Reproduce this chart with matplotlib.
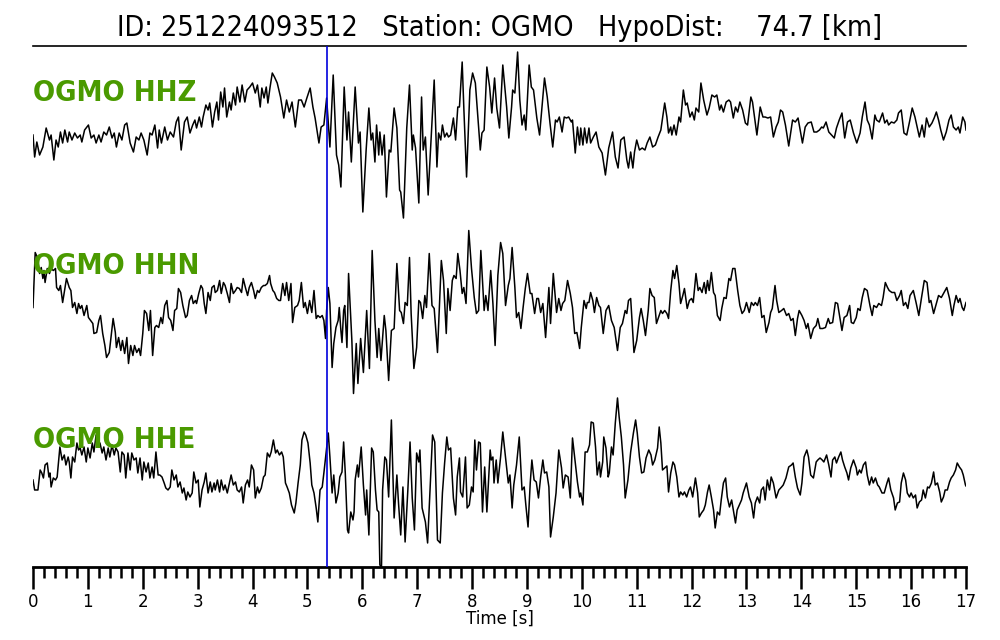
import matplotlib
matplotlib.use("Agg")
import matplotlib.pyplot as plt
from matplotlib.ticker import MultipleLocator

event_id = "251224093512"
station = "OGMO"
hypo_dist = 74.7
channels = ["HHZ", "HHN", "HHE"]
p_pick = 5.36

# amplitudes (arbitrary units), irregular time samples [s]
hhz_t = [0.00, 0.03, 0.07, 0.12, 0.18, 0.24, 0.30, 0.33, 0.38, 0.42, 0.46, 0.50, 0.54, 0.58, 0.63, 0.66, 0.71, 0.76, 0.81, 0.86,
         0.89, 0.94, 1.01, 1.06, 1.11, 1.15, 1.20, 1.24, 1.29, 1.34, 1.39, 1.44, 1.48, 1.52, 1.57, 1.62, 1.67, 1.71, 1.77, 1.83,
         1.88, 1.93, 1.97, 2.02, 2.08, 2.13, 2.17, 2.22, 2.27, 2.30, 2.34, 2.40, 2.45, 2.50, 2.56, 2.61, 2.65, 2.70, 2.76, 2.81,
         2.86, 2.91, 2.95, 2.98, 3.03, 3.07, 3.10, 3.15, 3.19, 3.22, 3.27, 3.31, 3.35, 3.38, 3.42, 3.46, 3.49, 3.53, 3.58, 3.61,
         3.65, 3.69, 3.72, 3.77, 3.81, 3.86, 3.90, 3.95, 4.00, 4.05, 4.09, 4.14, 4.17, 4.21, 4.25, 4.28, 4.32, 4.36, 4.40, 4.45,
         4.51, 4.57, 4.62, 4.67, 4.72, 4.78, 4.84, 4.89, 4.94, 4.99, 5.05, 5.10, 5.14, 5.21, 5.25, 5.30, 5.35, 5.41, 5.47, 5.53,
         5.57, 5.61, 5.67, 5.72, 5.75, 5.80, 5.87, 5.93, 5.96, 6.01, 6.07, 6.12, 6.16, 6.19, 6.23, 6.26, 6.30, 6.32, 6.36, 6.40,
         6.44, 6.49, 6.52, 6.58, 6.63, 6.68, 6.70, 6.75, 6.81, 6.86, 6.91, 6.93, 6.97, 7.03, 7.08, 7.11, 7.15, 7.20, 7.31, 7.36,
         7.39, 7.43, 7.46, 7.50, 7.54, 7.57, 7.61, 7.66, 7.70, 7.74, 7.77, 7.82, 7.85, 7.90, 7.96, 8.01, 8.06, 8.11, 8.15, 8.18,
         8.22, 8.27, 8.32, 8.36, 8.41, 8.45, 8.50, 8.56, 8.59, 8.63, 8.67, 8.72, 8.74, 8.78, 8.83, 8.87, 8.91, 8.95, 8.98, 9.04,
         9.08, 9.12, 9.18, 9.23, 9.27, 9.32, 9.37, 9.42, 9.47, 9.52, 9.55, 9.59, 9.64, 9.68, 9.72, 9.76, 9.81, 9.83, 9.88, 9.92,
         9.96, 9.98, 10.02, 10.05, 10.09, 10.13, 10.16, 10.21, 10.26, 10.31, 10.37, 10.43, 10.49, 10.56, 10.61, 10.66, 10.71, 10.77, 10.82, 10.85,
         10.89, 10.93, 10.96, 11.00, 11.05, 11.10, 11.15, 11.19, 11.24, 11.29, 11.34, 11.39, 11.44, 11.51, 11.55, 11.58, 11.62, 11.64, 11.68, 11.72,
         11.77, 11.80, 11.85, 11.89, 11.92, 11.97, 12.01, 12.05, 12.08, 12.13, 12.17, 12.22, 12.28, 12.32, 12.37, 12.42, 12.46, 12.51, 12.54, 12.58,
         12.63, 12.68, 12.71, 12.76, 12.80, 12.84, 12.88, 12.93, 12.98, 13.02, 13.08, 13.11, 13.19, 13.25, 13.30, 13.34, 13.39, 13.44, 13.49, 13.54,
         13.58, 13.62, 13.66, 13.71, 13.77, 13.84, 13.89, 13.94, 14.02, 14.07, 14.12, 14.18, 14.23, 14.28, 14.33, 14.37, 14.40, 14.45, 14.50, 14.55,
         14.60, 14.64, 14.69, 14.74, 14.79, 14.84, 14.89, 14.95, 15.01, 15.07, 15.11, 15.16, 15.20, 15.24, 15.29, 15.34, 15.37, 15.42, 15.48, 15.52,
         15.56, 15.59, 15.64, 15.69, 15.74, 15.77, 15.82, 15.87, 15.92, 15.97, 16.02, 16.07, 16.11, 16.15, 16.20, 16.24, 16.28, 16.33, 16.38, 16.42,
         16.46, 16.50, 16.54, 16.59, 16.64, 16.69, 16.73, 16.77, 16.82, 16.86, 16.89, 16.94, 16.98, 17.00]
hhz_amp = [-5, -27, -12, -25, -17, 2, -10, -5, -30, -10, -17, -2, -13, 0, -12, -2, -10, -3, -8, -5,
           -12, 0, 5, -8, -5, -13, -5, -12, -2, -5, 3, -8, -3, -17, -3, -10, 5, 7, -13, -22,
           -7, -10, -3, -10, -25, -3, -5, 5, -18, 0, -13, 3, -10, -2, -7, 8, 13, -20, 8, 13,
           -3, 5, 10, 2, 13, 3, 13, 25, 20, 27, 3, 18, 28, 10, 38, 23, 42, 13, 28, 20,
           37, 25, 43, 28, 45, 28, 40, 43, 47, 37, 45, 23, 42, 32, 43, 27, 43, 57, 53, 47,
           33, 12, 30, 18, 28, 3, 30, 30, 23, 32, 42, 23, 12, -13, 3, 5, 32, -17, 55, -25,
           -35, -57, 43, -10, 18, -32, 43, -13, -2, -82, -20, 22, -10, -3, -32, 5, -25, -2, -25, -5,
           -67, -20, -22, 22, 2, -60, -62, -88, 2, 45, -20, -5, -18, -73, 33, -20, -7, -65, 50, -37,
           -3, -10, 5, -7, -3, -7, -5, 12, -10, 23, 23, 68, 22, -47, 40, 57, 47, 10, -20, -3,
           0, 63, 43, 17, 52, 22, 2, 65, 47, 23, -8, 23, 40, 37, 78, 30, 5, 15, 0, 65,
           43, 40, 12, -5, 20, 52, 33, 7, -17, 10, 8, 13, -2, 13, 12, 13, 8, 10, -23, 3,
           -15, 2, -15, 2, -13, 2, -13, -7, -2, -17, -23, -45, -18, -2, -27, -38, -10, -7, -30, -38,
           -22, -38, -22, -10, -20, -18, -20, -13, -7, -17, -15, -7, 0, 27, 13, -3, 3, -5, 5, -5,
           13, 8, 40, 25, 27, 13, 18, 10, 22, 18, 47, 30, 15, 22, 35, 33, 35, 20, 25, 18,
           28, 30, 28, 12, 23, 18, 28, 20, 7, 5, 33, 28, -5, 23, 13, 13, 12, 13, -7, 3,
           8, 20, 18, 5, -16, 10, 8, 12, -13, 3, 7, 8, -2, -2, 0, 3, 2, 8, -2, -5,
           -8, 2, 10, 17, -8, 8, 10, -3, -13, -3, 13, 28, 10, 5, -9, 15, 10, 8, 17, 7,
           10, 5, 8, 7, 10, 17, 20, -3, -5, 8, 22, 13, 3, -7, 5, -7, 12, 3, 7, 12,
           18, 10, 0, -10, -2, 10, 15, 3, 0, 3, -3, 13, 8, 0]

hhn_t = [0.00, 0.04, 0.08, 0.12, 0.15, 0.18, 0.20, 0.22, 0.26, 0.30, 0.33, 0.37, 0.41, 0.43, 0.47, 0.50, 0.54, 0.58, 0.61, 0.66,
         0.69, 0.72, 0.76, 0.80, 0.83, 0.86, 0.89, 0.93, 0.98, 1.01, 1.05, 1.09, 1.11, 1.16, 1.20, 1.23, 1.27, 1.31, 1.34, 1.39,
         1.43, 1.46, 1.50, 1.52, 1.56, 1.60, 1.63, 1.67, 1.71, 1.74, 1.78, 1.82, 1.85, 1.89, 1.93, 1.96, 2.00, 2.03, 2.07, 2.11,
         2.14, 2.18, 2.22, 2.25, 2.29, 2.33, 2.36, 2.40, 2.44, 2.47, 2.51, 2.55, 2.58, 2.62, 2.65, 2.69, 2.73, 2.78, 2.81, 2.85,
         2.89, 2.92, 2.96, 2.98, 3.02, 3.06, 3.09, 3.12, 3.15, 3.19, 3.23, 3.26, 3.30, 3.32, 3.36, 3.40, 3.43, 3.47, 3.50, 3.54,
         3.58, 3.61, 3.65, 3.69, 3.72, 3.76, 3.80, 3.83, 3.87, 3.91, 3.94, 3.98, 4.02, 4.05, 4.09, 4.12, 4.16, 4.20, 4.23, 4.27,
         4.31, 4.33, 4.37, 4.40, 4.44, 4.48, 4.51, 4.55, 4.59, 4.62, 4.66, 4.70, 4.73, 4.77, 4.82, 4.85, 4.89, 4.93, 4.96, 5.00,
         5.04, 5.08, 5.12, 5.16, 5.19, 5.23, 5.27, 5.30, 5.33, 5.35, 5.38, 5.41, 5.45, 5.48, 5.52, 5.56, 5.58, 5.61, 5.63, 5.66,
         5.68, 5.72, 5.75, 5.81, 5.84, 5.89, 5.92, 5.97, 6.02, 6.08, 6.13, 6.18, 6.23, 6.27, 6.30, 6.34, 6.40, 6.43, 6.48, 6.53,
         6.58, 6.63, 6.68, 6.71, 6.75, 6.78, 6.82, 6.86, 6.89, 6.94, 6.99, 7.03, 7.06, 7.10, 7.14, 7.17, 7.22, 7.27, 7.31, 7.37,
         7.44, 7.48, 7.53, 7.56, 7.60, 7.64, 7.67, 7.71, 7.74, 7.78, 7.82, 7.85, 7.89, 7.94, 7.99, 8.04, 8.08, 8.12, 8.16, 8.22,
         8.25, 8.29, 8.34, 8.38, 8.42, 8.47, 8.52, 8.56, 8.61, 8.66, 8.69, 8.73, 8.78, 8.81, 8.85, 8.89, 8.93, 8.97, 9.01, 9.06,
         9.09, 9.14, 9.18, 9.21, 9.25, 9.29, 9.34, 9.40, 9.43, 9.48, 9.54, 9.58, 9.62, 9.65, 9.69, 9.74, 9.79, 9.83, 9.87, 9.91,
         9.96, 9.99, 10.04, 10.08, 10.10, 10.13, 10.16, 10.20, 10.23, 10.27, 10.31, 10.34, 10.39, 10.44, 10.49, 10.54, 10.59, 10.65, 10.70, 10.74,
         10.79, 10.82, 10.85, 10.89, 10.95, 11.00, 11.05, 11.08, 11.12, 11.16, 11.21, 11.24, 11.28, 11.32, 11.36, 11.41, 11.44, 11.47, 11.51, 11.55,
         11.58, 11.62, 11.66, 11.69, 11.73, 11.77, 11.80, 11.84, 11.87, 11.92, 11.96, 12.00, 12.03, 12.08, 12.12, 12.15, 12.19, 12.23, 12.26, 12.29,
         12.32, 12.36, 12.40, 12.43, 12.47, 12.52, 12.55, 12.59, 12.63, 12.68, 12.71, 12.75, 12.79, 12.84, 12.88, 12.92, 12.96, 13.00, 13.05, 13.09,
         13.13, 13.16, 13.20, 13.24, 13.28, 13.32, 13.36, 13.41, 13.44, 13.47, 13.52, 13.55, 13.59, 13.64, 13.68, 13.73, 13.77, 13.81, 13.85, 13.89,
         13.93, 13.96, 14.01, 14.05, 14.09, 14.12, 14.17, 14.22, 14.27, 14.30, 14.34, 14.39, 14.44, 14.49, 14.52, 14.57, 14.62, 14.66, 14.71, 14.74,
         14.78, 14.83, 14.88, 14.91, 14.95, 15.00, 15.03, 15.07, 15.11, 15.15, 15.20, 15.25, 15.29, 15.32, 15.37, 15.41, 15.46, 15.49, 15.53, 15.57,
         15.60, 15.65, 15.70, 15.74, 15.79, 15.82, 15.86, 15.90, 15.94, 15.98, 16.04, 16.09, 16.14, 16.19, 16.24, 16.29, 16.33, 16.36, 16.41, 16.45,
         16.50, 16.55, 16.60, 16.65, 16.70, 16.75, 16.78, 16.82, 16.86, 16.89, 16.93, 16.96, 17.00]
hhn_amp = [-4, 51, 46, 30, 36, 25, 33, 21, 35, 30, 35, 33, 35, 16, 13, 18, 1, 15, 25, 16,
           13, -4, 1, -10, 0, -5, -2, -12, -2, -14, -17, -20, -30, -29, -17, -12, -30, -42, -54, -49,
           -29, -15, -29, -44, -34, -47, -37, -50, -34, -60, -42, -52, -42, -49, -45, -52, -30, -7, -10, -27,
           -7, -52, -24, -22, -24, -14, -20, -2, 3, -14, -17, -27, -7, -5, 15, 11, -2, -14, -12, 3,
           8, 0, 3, 0, 10, 18, 15, 0, -10, 11, 3, 16, 18, 11, 13, 23, 10, 21, 18, 10,
           1, 20, 10, 13, 16, 15, 11, 25, 16, 8, 16, 21, 13, 5, 13, 11, 16, 18, 18, 20,
           28, 20, 13, 11, 5, 3, 3, 20, 8, 21, 3, 20, -19, -4, -2, 3, 21, -4, 1, -10,
           3, -9, 13, -15, -12, -14, -12, -17, -35, -7, 16, 0, -64, -40, -24, -17, -4, -27, -39, -7,
           -2, -44, 30, -37, -90, -40, -80, -35, -69, -7, -65, 53, -17, -54, -25, -57, -12, -27, -77, -27,
           -25, 40, -7, -9, -20, 1, -2, 46, -10, -65, -44, 3, 1, -15, 8, -4, 50, -2, -5, -49,
           43, 23, -30, 15, -7, 23, 28, 25, 50, 33, 10, 16, 0, 73, 35, 6, -10, -7, 53, -7,
           8, -7, 33, 0, -42, 28, 61, 50, -2, 18, 25, 56, 16, -14, -9, -25, -4, 15, 30, 10,
           10, -10, 5, 5, -9, 0, -34, 16, -20, 30, -9, 5, -7, 0, 3, 23, 10, -4, -30, -29,
           -45, -24, 3, -5, 1, 1, 11, 3, -9, 6, -2, -4, -30, -7, -2, -17, -24, -47, -24, -20,
           -7, -10, 3, 5, -49, -37, -14, -5, -17, -32, -7, 15, 8, 6, -20, -12, -7, -10, -7, -10,
           -15, 13, 33, 25, 38, 20, 0, 8, 15, -5, 3, 5, 1, 30, 13, 16, 11, 21, 10, 23,
           13, 31, 11, 8, -12, -17, -5, 6, 5, 25, 23, 35, 35, 13, -2, -10, -7, 1, -9, 1,
           -2, 1, -2, 6, -14, -12, -29, -19, -9, -5, 18, 3, -9, -7, -5, -12, -10, -17, -15, -32,
           -15, -7, -12, -17, -25, -20, -35, -25, -22, -15, -25, -25, -24, -15, -20, -19, 1, 0, -17, -27,
           -14, -12, -2, -19, -20, -14, -5, -7, 6, 15, 13, -2, -12, -2, -4, 0, -2, 6, 21, 16,
           13, 11, 11, 3, 8, 13, -2, 1, -5, 8, 13, 1, -12, 6, 23, 21, 1, 3, -10, -2,
           8, 6, 11, 16, 5, -12, -2, 8, 1, 5, -4, -7, 1]

hhe_t = [0.00, 0.03, 0.09, 0.13, 0.16, 0.19, 0.22, 0.26, 0.29, 0.31, 0.33, 0.37, 0.41, 0.44, 0.49, 0.53, 0.57, 0.60, 0.64, 0.66,
         0.69, 0.72, 0.76, 0.80, 0.83, 0.86, 0.89, 0.93, 0.97, 1.00, 1.04, 1.08, 1.11, 1.15, 1.18, 1.22, 1.26, 1.29, 1.33, 1.37,
         1.40, 1.44, 1.48, 1.51, 1.55, 1.59, 1.62, 1.66, 1.69, 1.73, 1.77, 1.80, 1.84, 1.88, 1.91, 1.95, 1.99, 2.02, 2.06, 2.10,
         2.13, 2.17, 2.20, 2.24, 2.28, 2.31, 2.35, 2.39, 2.42, 2.46, 2.50, 2.53, 2.57, 2.61, 2.64, 2.68, 2.72, 2.75, 2.79, 2.82,
         2.86, 2.90, 2.93, 2.97, 3.01, 3.04, 3.08, 3.12, 3.15, 3.19, 3.23, 3.26, 3.30, 3.32, 3.36, 3.40, 3.43, 3.47, 3.50, 3.54,
         3.58, 3.61, 3.65, 3.69, 3.72, 3.76, 3.80, 3.83, 3.87, 3.91, 3.94, 3.98, 4.02, 4.05, 4.09, 4.12, 4.16, 4.20, 4.23, 4.27,
         4.31, 4.34, 4.38, 4.42, 4.45, 4.49, 4.53, 4.56, 4.60, 4.63, 4.67, 4.71, 4.76, 4.79, 4.83, 4.87, 4.90, 4.94, 4.97, 5.01,
         5.05, 5.08, 5.12, 5.16, 5.19, 5.23, 5.27, 5.30, 5.34, 5.38, 5.41, 5.45, 5.48, 5.52, 5.56, 5.59, 5.63, 5.66, 5.69, 5.73,
         5.75, 5.79, 5.83, 5.85, 5.87, 5.91, 5.93, 5.98, 6.02, 6.06, 6.08, 6.12, 6.17, 6.20, 6.24, 6.27, 6.30, 6.32, 6.35, 6.37,
         6.41, 6.44, 6.48, 6.53, 6.58, 6.63, 6.66, 6.70, 6.74, 6.78, 6.83, 6.87, 6.91, 6.95, 6.99, 7.03, 7.05, 7.09, 7.15, 7.19,
         7.25, 7.28, 7.32, 7.37, 7.42, 7.46, 7.50, 7.54, 7.57, 7.61, 7.66, 7.70, 7.73, 7.77, 7.79, 7.83, 7.88, 7.91, 7.95, 7.99,
         8.02, 8.05, 8.08, 8.12, 8.15, 8.19, 8.23, 8.27, 8.33, 8.35, 8.38, 8.40, 8.44, 8.47, 8.52, 8.56, 8.61, 8.66, 8.69, 8.73,
         8.76, 8.81, 8.86, 8.91, 8.95, 8.98, 9.02, 9.06, 9.09, 9.13, 9.17, 9.21, 9.25, 9.29, 9.32, 9.36, 9.40, 9.43, 9.48, 9.53,
         9.58, 9.63, 9.66, 9.70, 9.75, 9.79, 9.83, 9.88, 9.92, 9.96, 9.98, 10.02, 10.06, 10.10, 10.14, 10.17, 10.21, 10.25, 10.28, 10.32,
         10.34, 10.38, 10.40, 10.44, 10.48, 10.50, 10.54, 10.57, 10.61, 10.65, 10.68, 10.72, 10.76, 10.79, 10.84, 10.89, 10.94, 10.98, 11.01, 11.05,
         11.09, 11.13, 11.17, 11.22, 11.26, 11.29, 11.33, 11.38, 11.41, 11.44, 11.47, 11.51, 11.55, 11.58, 11.62, 11.66, 11.69, 11.73, 11.77, 11.80,
         11.84, 11.87, 11.91, 11.95, 11.98, 12.02, 12.07, 12.11, 12.14, 12.18, 12.22, 12.25, 12.29, 12.32, 12.36, 12.40, 12.43, 12.47, 12.51, 12.54,
         12.58, 12.62, 12.65, 12.69, 12.73, 12.76, 12.80, 12.83, 12.87, 12.91, 12.94, 13.00, 13.05, 13.09, 13.13, 13.16, 13.20, 13.24, 13.27, 13.31,
         13.34, 13.38, 13.42, 13.45, 13.49, 13.54, 13.59, 13.64, 13.67, 13.72, 13.77, 13.82, 13.85, 13.89, 13.93, 13.98, 14.01, 14.05, 14.10, 14.13,
         14.17, 14.22, 14.27, 14.30, 14.34, 14.38, 14.41, 14.46, 14.50, 14.54, 14.57, 14.61, 14.64, 14.68, 14.72, 14.75, 14.79, 14.83, 14.86, 14.90,
         14.95, 15.00, 15.02, 15.06, 15.09, 15.13, 15.17, 15.20, 15.24, 15.28, 15.31, 15.35, 15.39, 15.42, 15.47, 15.51, 15.56, 15.59, 15.63, 15.68,
         15.71, 15.75, 15.79, 15.82, 15.86, 15.90, 15.93, 15.97, 16.00, 16.04, 16.08, 16.11, 16.15, 16.19, 16.22, 16.26, 16.30, 16.33, 16.37, 16.41,
         16.44, 16.48, 16.52, 16.55, 16.59, 16.62, 16.66, 16.70, 16.73, 16.77, 16.81, 16.84, 16.88, 16.92, 16.95, 16.99, 17.00]
hhe_amp = [-3, -13, -13, 7, 4, -1, 12, 14, 0, 4, -10, -1, -3, 0, 30, 17, 22, 12, 20, 15,
           -1, 20, 15, 34, 27, 29, 22, 30, 15, 29, 19, 34, 25, 42, 30, 34, 24, 30, 17, 29,
           20, 32, 22, 29, 25, 5, 25, 22, -1, 24, 7, 24, 17, 19, 4, 19, -3, 15, 5, 14,
           -1, 10, -1, 25, 2, 2, 0, -6, -11, -13, -10, 7, -3, 2, -10, -5, -16, -11, -23, -15,
           -20, -16, 5, -6, -3, -30, -13, -5, 4, -16, -5, -15, -6, -13, -3, -15, -3, -13, -8, -16,
           -6, 2, -8, -5, -13, -15, -10, -26, -8, -3, -10, 12, 7, -21, -10, -16, -11, 0, 2, 24,
           20, 25, 37, 24, 27, 22, 25, 20, -6, -10, -16, -28, -36, -26, -6, 12, 37, 45, 42, 34,
           14, -8, -16, -31, -45, -13, -10, 4, 24, 44, 20, -16, 2, -26, -16, 0, 5, 35, 4, -53,
           -56, -35, -43, -35, -3, 12, 0, 30, -8, -38, -13, -58, 29, 25, -13, -33, -35, -88, -90, -13,
           20, 17, -20, 57, -41, 2, -26, -58, -10, -65, -13, 35, -21, -53, 24, 15, 27, -31, -45, -66,
           7, 42, 35, -63, -66, -16, 14, 40, 27, 29, -21, -38, 0, 19, -15, -20, 20, -31, -28, -10,
           -15, 37, 7, 35, 34, -35, 10, -35, 27, 17, 20, -6, 17, -6, 20, 45, 20, -6, 2, -31,
           -8, 12, 40, -13, -10, -28, -50, -6, 17, -3, -5, -21, 0, 17, 4, 5, -10, -60, -40, -16,
           27, 9, -11, 2, 0, -21, 39, 15, -5, -20, -16, -28, 25, 25, 32, 55, 54, 30, 2, 15,
           0, 15, 40, 29, 0, 4, 30, 22, 54, 79, 60, 40, 12, -21, -3, 25, 44, 57, 44, 20,
           4, 5, 19, 27, 22, 12, 17, 29, 50, 34, 7, 9, 11, -15, 4, 15, 12, 0, -20, -15,
           -18, -15, -20, -13, -10, -20, -1, -16, -40, -36, -33, -28, -15, -8, -20, -33, -51, -35, -38, -23,
           -6, -1, -20, -30, -23, -33, -46, -33, -28, -23, -16, -6, -20, -26, -41, -26, -20, -26, -13, -10,
           -23, -3, -13, 0, -6, -21, -13, -10, -8, -1, 10, 12, 14, 0, -11, -18, -6, 20, 27, 20,
           2, -1, 15, 17, 19, 17, 15, 22, 12, 0, 17, 20, 14, 20, 25, 17, 10, 4, -3, 9,
           17, 9, 2, 7, 4, 12, 15, 2, -8, 0, -6, -1, -8, -10, -16, -16, -6, -1, -13, -21,
           -33, -26, -25, -6, 4, -3, -16, -20, -16, -21, -18, -31, -25, -23, -13, -21, -10, -11, -6, 5,
           -8, -6, -15, -25, -20, -13, -13, -5, -1, 2, 7, 14, 10, 7, 2, -8, -9]

traces = [(hhz_t, hhz_amp), (hhn_t, hhn_amp), (hhe_t, hhe_amp)]
gap = 173.5  # vertical spacing between traces, amplitude units

fig = plt.figure(figsize=(10, 6.4), dpi=100)
ax = fig.add_axes([0.033, 0.1141, 0.933, 0.814])

for i, (ch, (t, amp)) in enumerate(zip(channels, traces)):
    off = -i * gap
    ax.plot(t, [off + a for a in amp], color="black", lw=1.1, zorder=2)
    ax.text(0.0, off + 29, f"{station} {ch}", color="#4a9a00", fontsize=21,
            fontweight="bold", fontstretch="condensed", ha="left", va="baseline", zorder=5)

ax.axvline(p_pick, color="#0000dd", lw=1.2, zorder=3)

ax.set_xlim(0, 17)
ax.set_ylim(-437, 84)
ax.set_yticks([])
for side in ["left", "right"]:
    ax.spines[side].set_visible(False)
ax.spines["top"].set_linewidth(1.2)
ax.spines["bottom"].set_linewidth(2.0)

ax.xaxis.set_major_locator(MultipleLocator(1))
ax.xaxis.set_minor_locator(MultipleLocator(0.2))
ax.tick_params(axis="x", which="major", length=16, width=1.8, labelsize=12, pad=3)
ax.tick_params(axis="x", which="minor", length=8, width=1.8)
ax.set_xlabel("Time [s]", fontsize=12, labelpad=-1)

ax.set_title(f"ID: {event_id}   Station: {station}   HypoDist: {hypo_dist:7.1f} [km]",
             fontsize=20.6, fontstretch="condensed", pad=7)

fig.savefig("out.png", dpi=100)
